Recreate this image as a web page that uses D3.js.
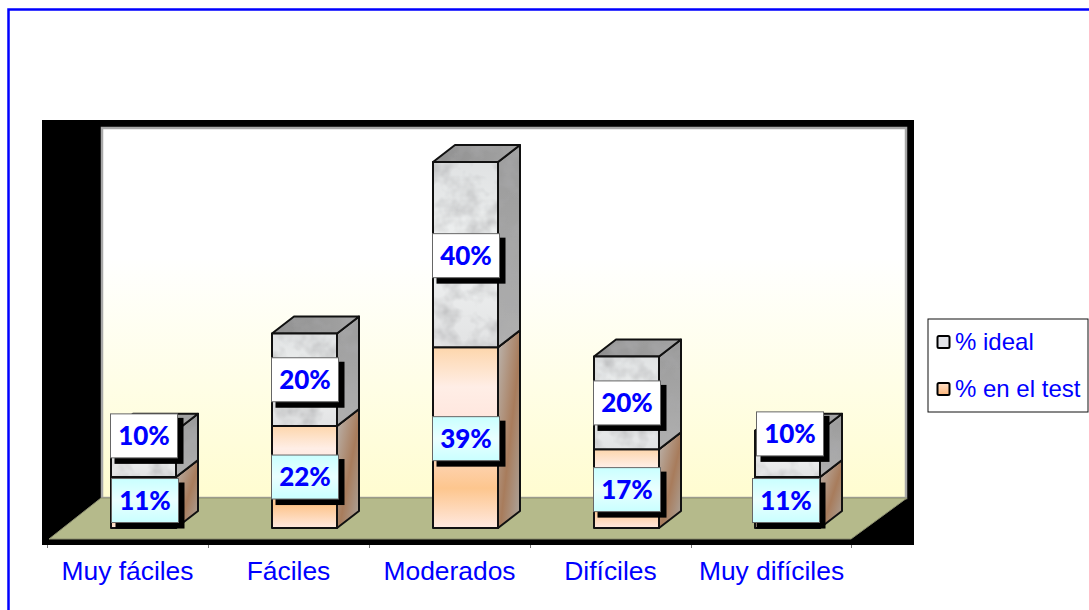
<!DOCTYPE html>
<html><head><meta charset="utf-8">
<script src="https://cdn.jsdelivr.net/npm/d3@7"></script>
<style>html,body{margin:0;padding:0;background:#fff;overflow:hidden}svg{display:block}</style>
</head><body><svg id="c" width="1089" height="610"></svg>
<script>
const categories = ["Muy fáciles","Fáciles","Moderados","Difíciles","Muy difíciles"];
const testValues = [11,22,39,17,11];
const idealValues = [10,20,40,20,10];
const seriesNames = ["% ideal","% en el test"];
// hand-placed label shifts of the original chart, in pixels
const idealNudge = [[0,-18],[0,0],[0,1],[0,0],[2,-20]];
const testNudge = [[1,-2],[0,0],[0,1],[0,1],[-2,-2]];

const svg = d3.select("#c");
const W = {x0:42,x1:914,y0:120,y1:545, wx0:101,wx1:907,wy0:127,wy1:498, fx0:49,fx1:851,fy:539};
const dx = 22, dy = -17, barW = 65, barOffset = 64;
const x = d3.scaleBand().domain(categories).range([47,852]);
const y = d3.scaleLinear().domain([0,79]).range([528,162]);
const line = p => "M"+p.map(q=>q.join(",")).join("L")+"Z";
const defs = svg.append("defs");

function grad(id, stops, dir){
  const g = defs.append("linearGradient").attr("id",id)
    .attr("x1",dir?dir[0]:0).attr("y1",dir?dir[1]:0).attr("x2",dir?dir[2]:0).attr("y2",dir?dir[3]:1);
  stops.forEach(s=>g.append("stop").attr("offset",s[0]).attr("stop-color",s[1]));
}
grad("wall",[[0,"#ffffff"],[.35,"#ffffff"],[.7,"#fffee6"],[1,"#fffcd0"]]);
grad("orange",[[0,"#fdd6ac"],[.22,"#ffeee6"],[.45,"#ffe4dc"],[.78,"#fdc68e"],[1,"#ffe9e0"]]);
grad("orangeSide",[[0,"#bcb6b0"],[.55,"#a87c5c"],[1,"#aca69f"]],[0,0,1,1]);
grad("marble",[[0,"#e0e2e3"],[.5,"#f0f2f2"],[1,"#e2e3e4"]]);
grad("marbleSide",[[0,"#9a9a9a"],[1,"#b0b0b0"]]);
grad("marbleTop",[[0,"#8e8e8e"],[1,"#a4a4a4"]],[0,0,1,0]);
grad("cyan",[[0,"#c9ffff"],[.5,"#eaffff"],[1,"#c9ffff"]]);
grad("swOrange",[[0,"#fde0c8"],[1,"#fdb67a"]]);

const f = defs.append("filter").attr("id","tex").attr("x",0).attr("y",0).attr("width",1).attr("height",1);
f.append("feTurbulence").attr("type","fractalNoise").attr("baseFrequency",.05).attr("numOctaves",3).attr("seed",7).attr("result","n");
f.append("feColorMatrix").attr("in","n").attr("type","matrix")
  .attr("values","0 0 0 0 .4  0 0 0 0 .4  0 0 0 0 .41  1.5 0 0 0 -.62").attr("result","m");
f.append("feComposite").attr("in","m").attr("in2","SourceAlpha").attr("operator","in").attr("result","c");
const fm = f.append("feMerge");
fm.append("feMergeNode").attr("in","SourceGraphic");
fm.append("feMergeNode").attr("in","c");

// frame
svg.append("path").attr("d","M8.5,610V9.5H1089").attr("fill","none").attr("stroke","#0000ff").attr("stroke-width",2.5);

// plot surround, wall, floor
svg.append("rect").attr("x",W.x0).attr("y",W.y0).attr("width",W.x1-W.x0).attr("height",W.y1-W.y0).attr("fill","#000");
svg.append("rect").attr("x",W.wx0+1).attr("y",W.wy0+1).attr("width",W.wx1-W.wx0-2).attr("height",W.wy1-W.wy0-1)
  .attr("fill","url(#wall)").attr("stroke","#a8a8a8").attr("stroke-width",2.5);
svg.append("path").attr("d",line([[W.wx0,W.wy1],[W.wx1,W.wy1],[W.fx1,W.fy],[W.fx0,W.fy]]))
  .attr("fill","#b5ba8b").attr("stroke","#8d8f70").attr("stroke-width",1);

// axis
const axis = d3.axisBottom(x).tickSize(0);
const gAxis = svg.append("g").attr("transform",`translate(0,${W.y1})`).call(axis);
gAxis.select(".domain").remove();
gAxis.selectAll("text").attr("fill","#0000ff").style("font-family","'Liberation Sans',Arial,sans-serif").style("font-size","26.4px");
gAxis.selectAll("text").attr("y",16).attr("dy","0.71em");
const edges = categories.map(c=>x(c)).concat([x.range()[1]-1]);
svg.selectAll("line.tk").data(edges).join("line").attr("class","tk")
  .attr("x1",d=>d+.5).attr("x2",d=>d+.5).attr("y1",W.y1).attr("y2",W.y1+3).attr("stroke","#777");

// bars
function box(c, v0, v1, front, side, top){
  const xl = x(c)+barOffset, xr = xl+barW, yb = y(v0), yt = y(v1);
  const g = svg.append("g");
  const faces = [
    [[[xr,yb],[xr+dx,yb+dy],[xr+dx,yt+dy],[xr,yt]], side],
    [[[xl,yt],[xr,yt],[xr+dx,yt+dy],[xl+dx,yt+dy]], top],
    [[[xl,yb],[xr,yb],[xr,yt],[xl,yt]], front]
  ];
  faces.forEach(([p,fill])=>{
    g.append("path").attr("d",line(p)).attr("fill",fill.c).attr("filter",fill.t?"url(#tex)":null);
    g.append("path").attr("d",line(p)).attr("fill","none").attr("stroke","#111").attr("stroke-width",2).attr("stroke-linejoin","round");
  });
}
categories.forEach((c,i)=>{
  box(c,0,testValues[i],{c:"url(#orange)"},{c:"url(#orangeSide)"},{c:"url(#orange)"});
  box(c,testValues[i],testValues[i]+idealValues[i],{c:"url(#marble)",t:1},{c:"url(#marbleSide)",t:1},{c:"url(#marbleTop)",t:1});
});

// data labels
function label(c, v0, v1, text, nudge, fill){
  const cx = x(c)+barOffset+barW/2+.5+nudge[0], cy = (y(v0)+y(v1))/2+nudge[1];
  const w=67,h=44;
  svg.append("rect").attr("x",cx-w/2+4).attr("y",cy-h/2+4).attr("width",w+2).attr("height",h+2).attr("fill","#000");
  svg.append("rect").attr("x",cx-w/2).attr("y",cy-h/2).attr("width",w).attr("height",h).attr("fill",fill).attr("stroke","#666").attr("stroke-width",1);
  svg.append("text").attr("x",cx).attr("y",cy+9).attr("text-anchor","middle").attr("fill","#0000ff")
    .style("font-family","Lato,sans-serif").style("font-weight","900").style("font-size","26px").text(text);
}
categories.forEach((c,i)=>{
  label(c,testValues[i],testValues[i]+idealValues[i],idealValues[i]+"%",idealNudge[i],"#fff");
  label(c,0,testValues[i],testValues[i]+"%",testNudge[i],"url(#cyan)");
});

// legend
svg.append("rect").attr("x",928).attr("y",319).attr("width",160).attr("height",93).attr("fill","#fff").attr("stroke","#111").attr("stroke-width",1);
const legendY = d3.scalePoint().domain(seriesNames).range([342,389]);
seriesNames.forEach((s,i)=>{
  const yy = legendY(s);
  svg.append("rect").attr("x",937.5).attr("y",yy-6).attr("width",12).attr("height",12).attr("rx",1.5)
    .attr("fill",i?"url(#swOrange)":"#e2e3e8").attr("stroke","#000").attr("stroke-width",2);
  svg.append("text").attr("x",955).attr("y",yy+8).attr("fill","#0000ff")
    .style("font-family","'Liberation Sans',Arial,sans-serif").style("font-size","24px").text(s);
});
</script></body></html>
